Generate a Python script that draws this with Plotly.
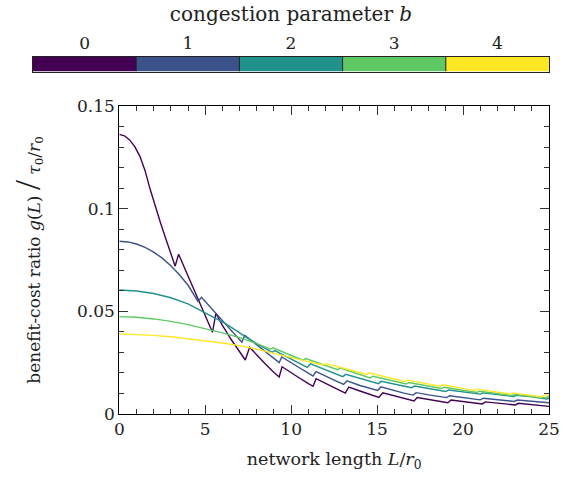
import plotly.graph_objects as go

# ---------------- data ----------------
b_values = [0, 1, 2, 3, 4]
b_labels = ["0", "1", "2", "3", "4"]
colors = ["#440154", "#3b528b", "#21918c", "#5ec962", "#fde725"]

L0 = [0, 0.3, 0.6, 0.9, 1.2, 1.5, 1.8, 2.1, 2.4, 2.7, 3.0, 3.25, 3.45, 4.0, 4.5, 5.0, 5.42, 5.62,
      6.0, 6.5, 7.0, 7.33, 7.58, 8.0, 8.5, 9.0, 9.3, 9.47, 10.0, 10.5, 11.0, 11.27, 11.45, 12.0,
      12.5, 13.15, 13.35, 14.0, 14.5, 15.1, 15.33, 16.0, 16.5, 17.15, 17.33, 18.0, 18.5, 19.12,
      19.3, 20.0, 20.5, 21.12, 21.3, 22.0, 22.5, 23.05, 23.22, 24.0, 24.5, 25.0]
G0 = [0.1362, 0.1355, 0.1335, 0.1302, 0.1255, 0.1185, 0.1093, 0.1005, 0.0930, 0.0855, 0.0781,
      0.0720, 0.0778, 0.0671, 0.0570, 0.0474, 0.0398, 0.0490, 0.0432, 0.0364, 0.0300, 0.0263,
      0.0325, 0.0287, 0.0244, 0.0202, 0.0180, 0.0230, 0.0200, 0.0174, 0.0148, 0.0135, 0.0172,
      0.0148, 0.0128, 0.0102, 0.0131, 0.0112, 0.0098, 0.0081, 0.0103, 0.0089, 0.0078, 0.0064,
      0.0080, 0.0071, 0.0064, 0.0055, 0.0068, 0.0061, 0.0056, 0.0049, 0.0059, 0.0053, 0.0049,
      0.0044, 0.0052, 0.0046, 0.0042, 0.0037]

L1 = [0, 0.5, 1.0, 1.5, 2.0, 2.5, 3.0, 3.5, 4.0, 4.58, 4.78, 5.0, 5.5, 6.0, 6.5, 7.13, 7.3, 7.7,
      8.0, 8.5, 9.0, 9.3, 9.45, 10.0, 10.5, 11.0, 11.27, 11.45, 12.0, 12.5, 13.05, 13.25, 14.0,
      14.5, 15.03, 15.22, 16.0, 16.5, 17.1, 17.27, 18.0, 18.5, 19.05, 19.22, 20.0, 20.5, 21.0,
      21.18, 22.0, 22.5, 22.98, 23.15, 24.0, 24.5, 25.0]
G1 = [0.0841, 0.0838, 0.0828, 0.0811, 0.0788, 0.0759, 0.0722, 0.0678, 0.0627, 0.0548, 0.0568,
      0.0548, 0.0501, 0.0455, 0.0408, 0.0350, 0.0383, 0.0356, 0.0336, 0.0303, 0.0270, 0.0250,
      0.0278, 0.0248, 0.0224, 0.0199, 0.0185, 0.0206, 0.0183, 0.0165, 0.0144, 0.0162, 0.0139,
      0.0127, 0.0115, 0.0132, 0.0113, 0.0103, 0.0092, 0.0104, 0.0093, 0.0087, 0.0080, 0.0089,
      0.0080, 0.0075, 0.0069, 0.0077, 0.0069, 0.0065, 0.0061, 0.0068, 0.0061, 0.0058, 0.0055]

L2 = [0, 1, 2, 3, 4, 4.7, 5.5, 6.15, 6.7, 7.3, 8.0, 8.9, 9.05, 10.0, 10.93, 11.13, 12.0, 13.0,
      13.17, 14.0, 15.08, 15.23, 16.0, 17.0, 17.17, 18.0, 19.0, 19.17, 20.0, 21.0, 21.15, 22.0,
      22.95, 23.1, 24.0, 24.88, 25.0]
G2 = [0.0604, 0.0599, 0.0587, 0.0566, 0.0536, 0.0506, 0.0470, 0.0441, 0.0412, 0.0378, 0.0343,
      0.0300, 0.0309, 0.0268, 0.0227, 0.0244, 0.0214, 0.0182, 0.0193, 0.0175, 0.0148, 0.0159,
      0.0146, 0.0128, 0.0136, 0.0125, 0.0110, 0.0117, 0.0108, 0.0097, 0.0103, 0.0096, 0.0085,
      0.0091, 0.0084, 0.0073, 0.0077]

L3 = [0, 1, 2, 3, 4, 5, 6, 7, 7.5, 8.0, 8.8, 8.95, 10.0, 10.7, 10.85, 12.0, 12.7, 12.85, 14.0,
      14.6, 14.75, 16.0, 16.7, 16.85, 18.0, 18.75, 18.9, 20.0, 20.8, 20.95, 22.0, 22.85, 23.0,
      24.0, 24.8, 24.95, 25.0]
G3 = [0.0474, 0.0471, 0.0463, 0.0451, 0.0435, 0.0416, 0.0395, 0.0372, 0.0358, 0.0343, 0.0316,
      0.0322, 0.0285, 0.0262, 0.0270, 0.0236, 0.0216, 0.0224, 0.0194, 0.0176, 0.0184, 0.0159,
      0.0146, 0.0153, 0.0136, 0.0124, 0.0130, 0.0116, 0.0105, 0.0111, 0.0100, 0.0090, 0.0095,
      0.0086, 0.0078, 0.0084, 0.0084]

L4 = [0, 1, 2, 3, 4, 5, 6, 7, 8, 9, 10, 11, 11.85, 12.0, 13.0, 14.38, 14.52, 15.5, 16.62, 16.75,
      17.7, 18.68, 18.82, 19.8, 20.7, 20.84, 21.8, 22.75, 22.9, 23.8, 24.58, 24.75, 25.0]
G4 = [0.0390, 0.0388, 0.0383, 0.0376, 0.0367, 0.0357, 0.0346, 0.0333, 0.0316, 0.0295, 0.0274,
      0.0255, 0.0239, 0.0245, 0.0224, 0.0193, 0.0201, 0.0180, 0.0157, 0.0165, 0.0150, 0.0135,
      0.0142, 0.0127, 0.0114, 0.0121, 0.0109, 0.0097, 0.0103, 0.0093, 0.0083, 0.0092, 0.0092]

series_L = [L0, L1, L2, L3, L4]
series_G = [G0, G1, G2, G3, G4]

x_ticks = [0, 5, 10, 15, 20, 25]
y_ticks = [0, 0.05, 0.1, 0.15]
y_ticktext = ["0", "0.05", "0.1", "0.15"]

# ---------------- layout geometry (pixels) ----------------
W, H = 571, 477
ML, MR, MT, MB = 33, 22, 56, 63
plot_left, plot_right, plot_top, plot_bottom = 119.3, 549, 106, 414
cb_top, cb_bottom = 56.5, 71.5

pw = W - ML - MR
ph = H - MT - MB
xdom = [(plot_left - ML) / pw, (plot_right - ML) / pw]
ydom = [(H - MB - plot_bottom) / ph, (H - MB - plot_top) / ph]
cb_ydom = [(H - MB - cb_bottom) / ph, min(1.0, (H - MB - cb_top) / ph)]

FONT = "DejaVu Serif"
TXT = "#222222"

fig = go.Figure()

for b, Ls, Gs, c in zip(b_values, series_L, series_G, colors):
    fig.add_trace(go.Scatter(x=Ls, y=Gs, mode="lines", line=dict(color=c, width=1.4),
                             name=f"b={b}", showlegend=False, xaxis="x", yaxis="y"))

# discrete colour bar drawn as a heatmap on its own axes
cscale = [[i / (len(colors) - 1), c] for i, c in enumerate(colors)]
fig.add_trace(go.Heatmap(z=[b_values], x=b_values, y=[0], colorscale=cscale, zmin=b_values[0],
                         zmax=b_values[-1], showscale=False, xaxis="x2", yaxis="y2",
                         hoverinfo="skip"))
for i in range(len(b_values) - 1):
    fig.add_shape(type="line", xref="x2", yref="y2", x0=b_values[i] + 0.5, x1=b_values[i] + 0.5,
                  y0=-0.5, y1=0.5, line=dict(color="#222222", width=1))

axis_common = dict(showline=True, linecolor="black", linewidth=1, mirror="allticks",
                   ticks="inside", tickcolor="#333333", tickwidth=1, showgrid=False,
                   zeroline=False, tickfont=dict(family=FONT, size=17, color=TXT))

fig.update_layout(
    width=W, height=H,
    margin=dict(l=ML, r=MR, t=MT, b=MB, pad=0),
    paper_bgcolor="white", plot_bgcolor="white",
    font=dict(family=FONT, color=TXT, size=17),
    xaxis=dict(domain=xdom, anchor="y", range=[0, 25], tickvals=x_ticks, ticklen=9,
               minor=dict(dtick=1, ticklen=5, ticks="inside", tickcolor="#333333"),
               title=dict(text="network length <i>L</i>/<i>r</i><sub>0</sub>",
                          font=dict(family=FONT, size=17.5, color=TXT), standoff=14),
               **axis_common),
    yaxis=dict(domain=ydom, anchor="x", range=[0, 0.15], tickvals=y_ticks, ticktext=y_ticktext,
               ticklen=9, minor=dict(dtick=0.01, ticklen=5, ticks="inside", tickcolor="#333333"),
               title=dict(text="benefit-cost ratio <i>g</i>(<i>L</i>) "
                               "<span style='font-size:36px;font-family:Liberation Serif'>/</span>"
                               " <i>τ</i><sub>0</sub>/<i>r</i><sub>0</sub>",
                          font=dict(family=FONT, size=17, color=TXT), standoff=32),
               **axis_common),
    xaxis2=dict(domain=[0, 1], anchor="y2", side="top", range=[-0.5, 4.5],
                tickvals=b_values, ticktext=b_labels, ticks="", showline=True, mirror=True,
                linecolor="#222222", linewidth=1, showgrid=False, zeroline=False,
                tickfont=dict(family=FONT, size=17, color=TXT),
                title=dict(text="congestion parameter <i>b</i>",
                           font=dict(family=FONT, size=20, color=TXT), standoff=5)),
    yaxis2=dict(domain=cb_ydom, anchor="x2", range=[-0.5, 0.5], showticklabels=False,
                ticks="", showline=True, mirror=True, linecolor="#222222", linewidth=1,
                showgrid=False, zeroline=False),
)

fig.write_html("out.html")
